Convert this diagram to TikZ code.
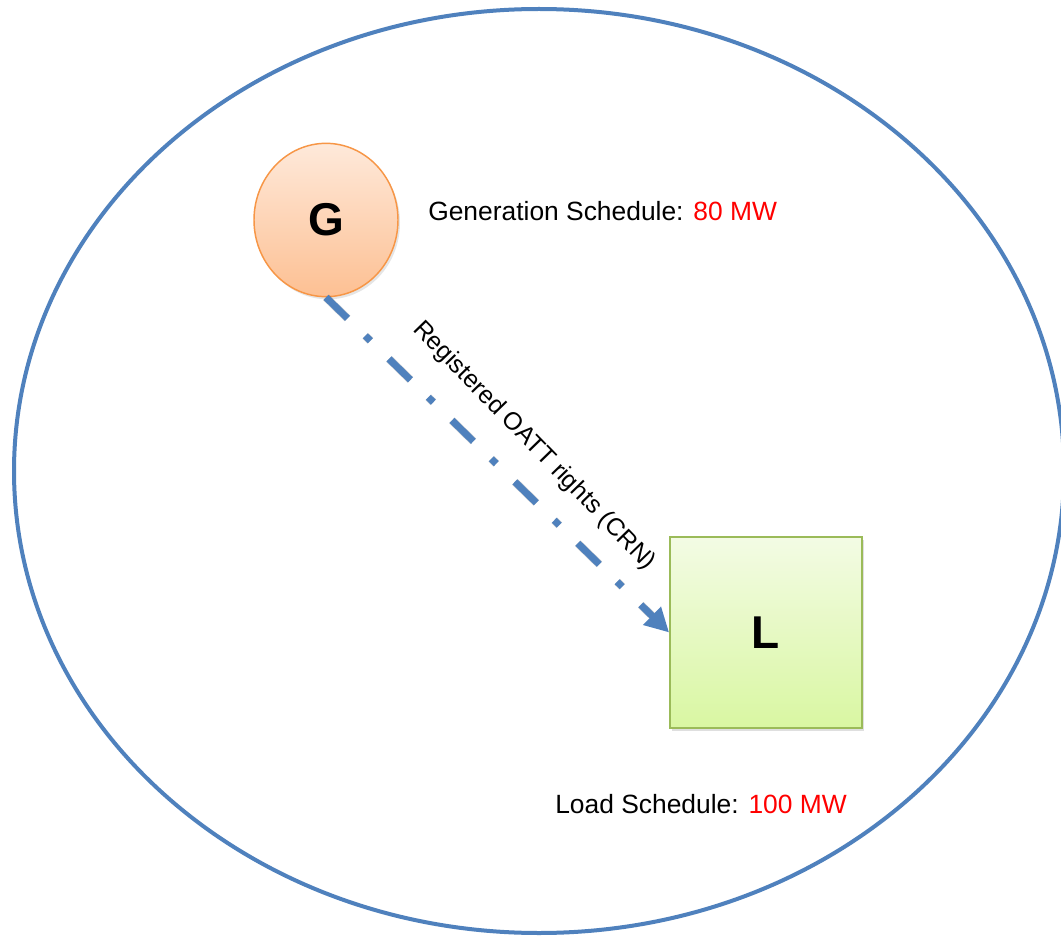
\documentclass[tikz,border=0pt]{standalone}
\usepackage{fontspec}
\setmainfont{Liberation Sans}
\usetikzlibrary{arrows.meta,shapes.geometric,shadows}
\definecolor{linkblue}{HTML}{4F81BD}
\definecolor{gborder}{HTML}{F79646}
\definecolor{gtop}{HTML}{FEE9DA}
\definecolor{gbot}{HTML}{FDC093}
\definecolor{lborder}{HTML}{9BBB59}
\definecolor{ltop}{HTML}{F3FBE4}
\definecolor{lbot}{HTML}{D9F7A2}
\definecolor{valred}{HTML}{FF0000}
\tikzset{
  zone/.style={draw=linkblue, line width=3pt},
  gennode/.style={ellipse, draw=gborder, line width=1.1pt, top color=gtop, bottom color=gbot,
    minimum width=108pt, minimum height=115pt, inner sep=0pt,
    font=\fontsize{34.5}{40}\selectfont\bfseries,
    drop shadow={opacity=0.2, shadow xshift=1.5pt, shadow yshift=-2pt}},
  loadnode/.style={rectangle, draw=lborder, line width=1.3pt, top color=ltop, bottom color=lbot,
    minimum width=144pt, minimum height=143pt, inner sep=0pt,
    font=\fontsize{34.5}{40}\selectfont\bfseries,
    drop shadow={opacity=0.25, shadow xshift=1.5pt, shadow yshift=-2pt}},
  link/.style={draw=linkblue, line width=5.25pt,
    dash pattern=on 22.5pt off 18.75pt on 5.25pt off 19.5pt,
    -{Triangle[length=18pt,width=18pt]}},
  linkshadow/.style={draw=black, opacity=0.18, line width=6pt,
    dash pattern=on 22.5pt off 18.75pt on 5.25pt off 19.5pt, shorten >=18pt},
  lbl/.style={font=\fontsize{19.8}{24}\selectfont, inner sep=0pt},
  rotlbl/.style={font=\fontsize{18.6}{22}\selectfont, inner sep=0pt}
}
\begin{document}
\begin{tikzpicture}[x=0.75pt,y=-0.75pt]
\useasboundingbox (0,0) rectangle (1061,938);
\clip (0,0) rectangle (1061,938);
\fill[white] (0,0) rectangle (1061,938);
\draw[zone] (539,471) ellipse [x radius=525, y radius=462];
\node[gennode] (G) at (326,220) {G};
\node[loadnode] (L) at (766,632.5) {L};
\begin{scope}[xshift=-2.5, yshift=3.5]
\draw[linkshadow] (G.south) -- (L.west);
\end{scope}
\draw[link] (G.south) -- (L.west);
\node[rotlbl, rotate=-45.8] (lab) at (534,446) {Registered OATT rights (CRN)};
\node[lbl, anchor=base west] (gs) at (428,221) {Generation Schedule: \textcolor{valred}{80 MW}};
\node[lbl, anchor=base west] (ls) at (555,813) {Load Schedule: \textcolor{valred}{100 MW}};
\end{tikzpicture}
\end{document}
